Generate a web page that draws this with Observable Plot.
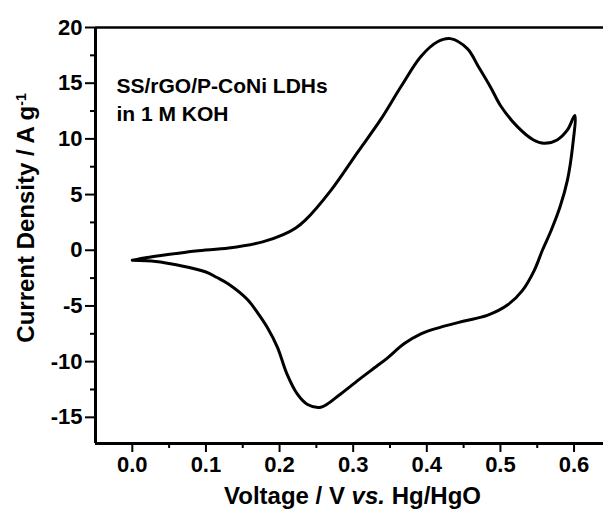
<!DOCTYPE html>
<html>
<head>
<meta charset="utf-8">
<script src="https://cdn.jsdelivr.net/npm/d3@7"></script>
<script src="https://cdn.jsdelivr.net/npm/@observablehq/plot@0.6"></script>
<style>
  html, body { margin: 0; padding: 0; background: white; }
  svg { display: block; }
</style>
</head>
<body>
<div id="chart"></div>
<script>
// CV loop (anodic sweep then cathodic sweep)
const voltage = [
  0.000, 0.020, 0.041, 0.086, 0.131, 0.177, 0.205, 0.222, 0.235, 0.270,
  0.305, 0.337, 0.365, 0.392, 0.414, 0.432, 0.455, 0.470, 0.487, 0.500,
  0.523, 0.545, 0.559, 0.577, 0.591, 0.601,
  0.598, 0.591, 0.581, 0.569, 0.557, 0.546, 0.530, 0.510, 0.482, 0.451,
  0.419, 0.392, 0.369, 0.346, 0.328, 0.310, 0.283, 0.256, 0.238, 0.224,
  0.210, 0.197, 0.183, 0.170, 0.156, 0.131, 0.115, 0.100, 0.063, 0.032, 0.000
];
const current = [
  -0.90, -0.65, -0.45, -0.06, 0.20, 0.75, 1.40, 2.00, 2.70, 5.40,
  8.70, 11.70, 14.70, 17.40, 18.70, 19.00, 18.10, 16.50, 14.60, 13.00,
  11.10, 9.90, 9.60, 9.90, 10.80, 12.10,
  9.30, 6.30, 3.90, 1.80, 0.00, -1.80, -3.60, -4.90, -5.85, -6.35,
  -6.90, -7.50, -8.40, -9.70, -10.60, -11.50, -12.90, -14.10, -13.85, -12.90,
  -11.10, -8.70, -6.90, -5.60, -4.40, -3.05, -2.45, -1.95, -1.35, -1.00, -0.90
];
const xTicks = [0.0, 0.1, 0.2, 0.3, 0.4, 0.5, 0.6];
const xMinor = [-0.05, 0.05, 0.15, 0.25, 0.35, 0.45, 0.55];
const yTicks = [-15, -10, -5, 0, 5, 10, 15, 20];
const yMinor = [-17.5, -12.5, -7.5, -2.5, 2.5, 7.5, 12.5, 17.5];
const xDomain = [-0.05, 0.64];
const yDomain = [-17.35, 20];
const annotation = ["SS/rGO/P-CoNi LDHs\nin 1 M KOH"];
const xTitle = ["Voltage / V ", "vs.", " Hg/HgO"];
const yTitle = ["Current Density / A g", "-1"];

const data = voltage.map((v, i) => ({v, c: current[i]}));
const font = "'Liberation Sans', Arial, Helvetica, sans-serif";

const chart = Plot.plot({
  width: 603,
  height: 510,
  marginLeft: 95,
  marginRight: 0,
  marginTop: 27,
  marginBottom: 67,
  x: {domain: xDomain},
  y: {domain: yDomain},
  style: {fontFamily: font, fontWeight: "bold", background: "white", color: "black"},
  marks: [
    Plot.axisX(xMinor.filter(d => d > xDomain[0]), {tickSize: 5, text: null, strokeWidth: 2, label: null}),
    Plot.axisX(xTicks, {tickSize: 9, tickPadding: 4, strokeWidth: 2, fontSize: 22, tickFormat: d3.format(".1f"), label: null}),
    Plot.axisY(yMinor.filter(d => d > yDomain[0]), {tickSize: 5, text: null, strokeWidth: 2, label: null}),
    Plot.axisY(yTicks, {tickSize: 10, tickPadding: 3, strokeWidth: 2, fontSize: 22, tickFormat: d => String(d), label: null}),
    Plot.ruleX([xDomain[0]], {strokeWidth: 3}),
    Plot.ruleY([yDomain[0]], {strokeWidth: 3}),
    Plot.ruleY([yDomain[1]], {strokeWidth: 2.5}),
    Plot.line(data, {x: "v", y: "c", curve: "catmull-rom", stroke: "black", strokeWidth: 3}),
    Plot.text(annotation, {frameAnchor: "top-left", dx: 21, dy: 45, lineAnchor: "top", textAnchor: "start", fontSize: 21, fontWeight: "bold", lineHeight: 1.35})
  ]
});

const svg = d3.select(chart);
const xs = chart.scale("x");
const xc = (xs.apply(xDomain[0]) + 603 + 7) / 2;

const xt = svg.append("text")
  .attr("x", xc).attr("y", 503.5)
  .attr("text-anchor", "middle")
  .style("font-family", font).style("font-weight", "bold").style("font-size", "24px").attr("fill", "black");
xt.append("tspan").text(xTitle[0]);
xt.append("tspan").style("font-style", "italic").text(xTitle[1]);
xt.append("tspan").text(xTitle[2]);

const yc = 218;
const yt = svg.append("text")
  .attr("transform", `translate(33.5,${yc}) rotate(-90)`)
  .attr("text-anchor", "middle")
  .style("font-family", font).style("font-weight", "bold").style("font-size", "24px").attr("fill", "black");
yt.append("tspan").text(yTitle[0]);
yt.append("tspan").attr("dy", "-0.55em").style("font-size", "14px").text(yTitle[1]);

document.getElementById("chart").appendChild(chart);
</script>
</body>
</html>
